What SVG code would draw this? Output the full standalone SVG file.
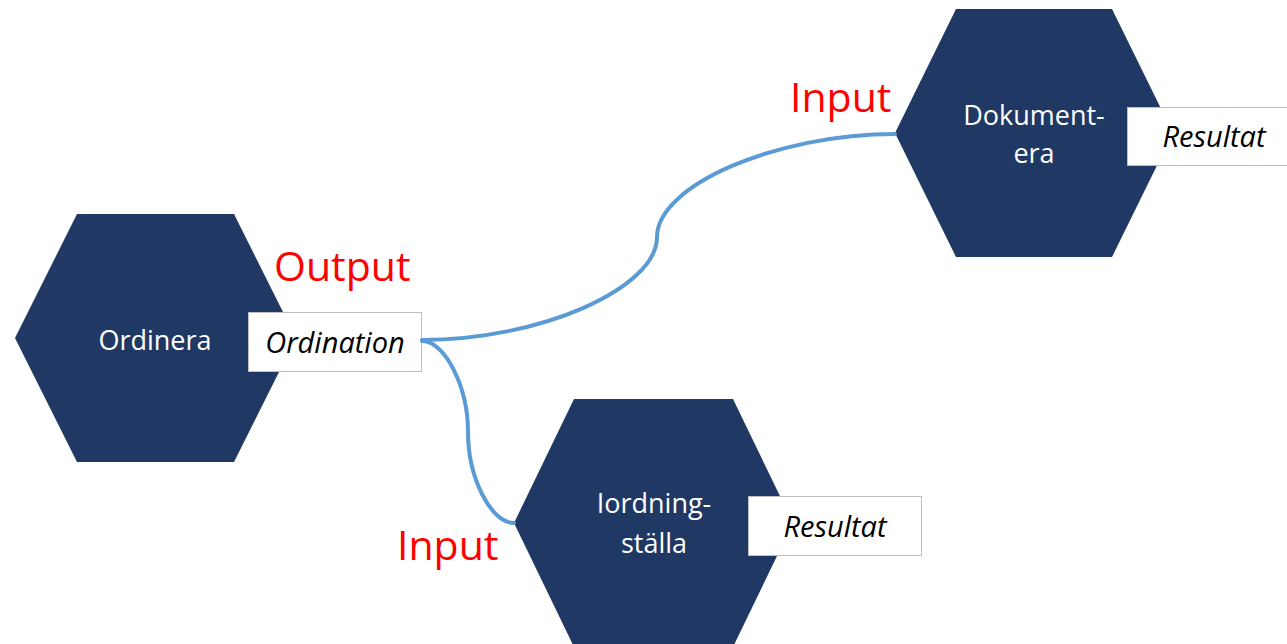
<svg xmlns="http://www.w3.org/2000/svg" width="1287" height="644" viewBox="0 0 1287 644">
  <style>
    .hex { fill: #203864; }
    .box { fill: #ffffff; stroke: #bfbfbf; stroke-width: 1; }
    .name { font-family: "Open Sans", "Liberation Sans", sans-serif; font-size: 27px; fill: #ffffff; text-anchor: middle; }
    .data { font-family: "Open Sans", "Liberation Sans", sans-serif; font-size: 29px; font-style: italic; fill: #000000; text-anchor: middle; }
    .port { font-family: "Open Sans", "Liberation Sans", sans-serif; font-size: 41px; fill: #ff0000; }
    .link { fill: none; stroke: #5b9bd5; stroke-width: 4; stroke-linecap: round; }
  </style>

  <!-- process: Ordinera -->
  <g id="ordinera">
    <polygon class="hex" points="15,338 77,214 234,214 296,338 234,462 77,462"/>
    <text class="name" x="155" y="350">Ordinera</text>
    <rect class="box" x="248.5" y="312.5" width="173" height="59"/>
    <text class="data" x="335" y="353">Ordination</text>
    <text class="port" x="274" y="281">Output</text>
  </g>

  <!-- process: Dokumentera -->
  <g id="dokumentera">
    <polygon class="hex" points="895,133 956,9 1112,9 1173,133 1112,257 956,257"/>
    <text class="name" x="1034" y="125">Dokument-</text>
    <text class="name" x="1034" y="163">era</text>
    <rect class="box" x="1127.5" y="107.5" width="162" height="58"/>
    <text class="data" x="1214" y="147">Resultat</text>
    <text class="port" x="790" y="112">Input</text>
  </g>

  <!-- process: Iordningställa -->
  <g id="iordningstalla">
    <polygon class="hex" points="514,523 574,399 733,399 793,523 733,647 574,647"/>
    <text class="name" x="654" y="513">Iordning-</text>
    <text class="name" x="654" y="553">ställa</text>
    <rect class="box" x="748.5" y="496.5" width="173" height="59"/>
    <text class="data" x="835" y="537">Resultat</text>
    <text class="port" x="397" y="560">Input</text>
  </g>

  <!-- connectors from the Ordination output -->
  <g id="connectors">
    <path class="link" d="M422,340 C539.5,340 657,288.5 657,237 C657,185.5 776,134 895,134"/>
    <path class="link" d="M422,341 C445,341 468,387 468,432 C468,478 491,523 514,523"/>
  </g>
</svg>
